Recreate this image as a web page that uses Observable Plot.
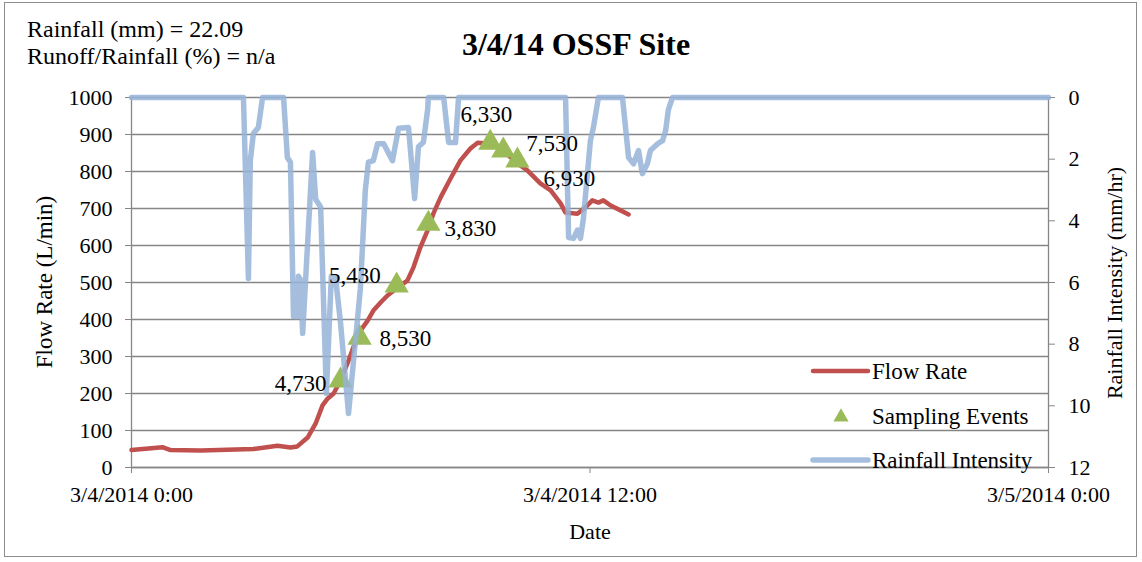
<!DOCTYPE html>
<html>
<head>
<meta charset="utf-8">
<script src="https://cdn.jsdelivr.net/npm/d3@7"></script>
<script src="https://cdn.jsdelivr.net/npm/@observablehq/plot@0.6"></script>
<style>
  html, body { margin: 0; padding: 0; background: #fff; }
  #wrap { position: relative; width: 1142px; height: 562px; overflow: hidden; }
  #wrap svg { position: absolute; left: 0; top: 0; }
  #wrap svg, #wrap svg text { font-family: 'Liberation Serif', 'Times New Roman', serif !important; }
  #border { position: absolute; left: 4px; top: 2px; width: 1133px; height: 555px; border: 1px solid #8c8c8c; box-sizing: border-box; }
</style>
</head>
<body>
<div id="wrap"><div id="border"></div></div>
<script>
// ---------- data (hours after 3/4/2014 0:00) ----------
const flowHours  = [0, 0.81, 1.02, 1.81, 3.19, 3.82, 4.16, 4.34, 4.61, 4.82, 5.00, 5.13, 5.29, 5.47, 5.68, 5.94, 6.18, 6.33, 6.52, 6.70, 6.96, 7.22, 7.38, 7.56, 7.75, 7.90, 8.09, 8.35, 8.61, 8.87, 9.06, 9.32, 9.66, 10.10, 10.36, 10.70, 10.97, 11.23, 11.36, 11.67, 11.88, 12.06, 12.22, 12.35, 12.54, 12.80, 13.01];
const flowValues = [47, 55, 47, 46, 50, 59, 54, 57, 81, 119, 168, 186, 200, 235, 289, 362, 397, 424, 446, 465, 486, 505, 541, 595, 641, 686, 730, 781, 830, 862, 878, 876, 862, 822, 803, 768, 749, 714, 689, 686, 703, 722, 716, 722, 708, 695, 684];

const rainHours  = [0, 2.93, 3.06, 3.11, 3.19, 3.32, 3.43, 3.98, 4.08, 4.16, 4.24, 4.34, 4.37, 4.42, 4.48, 4.74, 4.82, 4.95, 5.10, 5.23, 5.34, 5.47, 5.68, 5.99, 6.12, 6.20, 6.33, 6.44, 6.60, 6.83, 6.99, 7.25, 7.41, 7.51, 7.64, 7.75, 7.77, 8.17, 8.30, 8.48, 8.56, 11.36, 11.44, 11.57, 11.67, 11.75, 11.83, 12.01, 12.09, 12.22, 12.85, 13.01, 13.14, 13.27, 13.37, 13.50, 13.58, 13.77, 13.90, 13.98, 14.05, 14.16, 24];
const rainValues = [0, 0, 5.87, 2.04, 1.17, 0.97, 0, 0, 1.95, 2.1, 7.1, 7.1, 5.8, 5.9, 7.65, 1.78, 3.3, 3.55, 9.6, 5.8, 5.85, 7.3, 10.25, 6.2, 3.0, 2.1, 2.05, 1.5, 1.5, 2.05, 1.0, 0.97, 3.28, 1.6, 1.45, 0.4, 0, 0, 1.46, 1.46, 0, 0, 4.54, 4.57, 4.3, 4.57, 3.9, 1.4, 0.97, 0, 0, 1.95, 2.15, 1.72, 2.47, 2.15, 1.72, 1.5, 1.4, 1.07, 0.4, 0, 0];

const sampleHours  = [5.47, 5.97, 6.94, 7.77, 9.39, 9.73, 10.10];
const sampleValues = [235, 351, 492, 659, 878, 857, 830];
const sampleLabels = ["4,730", "8,530", "5,430", "3,830", "6,330", "7,530", "6,930"];

const flowTicks = [0, 100, 200, 300, 400, 500, 600, 700, 800, 900, 1000];
const rainTicks = [0, 2, 4, 6, 8, 10, 12];
const xTickHours = [0, 12, 24];
const xTickLabels = ["3/4/2014 0:00", "3/4/2014 12:00", "3/5/2014 0:00"];

const titleText = "3/4/14 OSSF Site";
const noteLines = ["Rainfall (mm) = 22.09", "Runoff/Rainfall (%) = n/a"];
const axisTitles = {x: "Date", y: "Flow Rate (L/min)", y2: "Rainfall Intensity (mm/hr)"};
const seriesNames = ["Flow Rate", "Sampling Events", "Rainfall Intensity"];

// ---------- build ----------
const base = Date.UTC(2014, 2, 4);
const toDate = h => new Date(base + h * 3600e3);
const FLOW_MAX = 1000, RAIN_MAX = 12;
const rainToY = r => FLOW_MAX - r * FLOW_MAX / RAIN_MAX;

const flow = flowHours.map((h, i) => ({t: toDate(h), v: flowValues[i]}));
const rain = rainHours.map((h, i) => ({t: toDate(h), v: rainToY(rainValues[i])}));
const samples = sampleHours.map((h, i) => ({t: toDate(h), v: sampleValues[i], label: sampleLabels[i]}));

const RED = "#C0504D", BLUE = "#95B3D7", GREEN = "#9BBB59", GRID = "#868686";
const FONT = "'Liberation Serif', 'Times New Roman', serif";

// label placement (layout only)
const labelLayout = {
  "4,730": {anchor: "end", dx: -14, dy: 3},
  "8,530": {anchor: "start", dx: 20, dy: 1},
  "5,430": {anchor: "end", dx: -16, dy: -10},
  "3,830": {anchor: "start", dx: 16, dy: 5},
  "6,330": {anchor: "middle", dx: -4, dy: -28},
  "7,530": {anchor: "start", dx: 23, dy: -7},
  "6,930": {anchor: "start", dx: 26, dy: 18}
};

const labelMarks = samples.map(s => {
  const L = labelLayout[s.label];
  return Plot.text([s], {x: "t", y: "v", text: "label", textAnchor: L.anchor, dx: L.dx, dy: L.dy, fontSize: 23, fill: "black"});
});

const xTickMap = new Map(xTickHours.map((h, i) => [+toDate(h), xTickLabels[i]]));

const chart = Plot.plot({
  width: 1142,
  height: 562,
  marginLeft: 131,
  marginRight: 94,
  marginTop: 97,
  marginBottom: 95,
  style: {fontFamily: FONT, fontSize: "22px", color: "black", background: "transparent", overflow: "visible"},
  x: {type: "utc", domain: [toDate(0), toDate(24)]},
  y: {domain: [0, FLOW_MAX]},
  marks: [
    Plot.gridY(flowTicks, {stroke: GRID, strokeOpacity: 1, strokeWidth: 1.3}),
    Plot.ruleX([toDate(0), toDate(24)], {stroke: GRID, strokeWidth: 1.3}),
    Plot.ruleY([0], {stroke: GRID, strokeWidth: 1.3}),
    Plot.axisY(flowTicks, {anchor: "left", tickSize: 6, tickPadding: 13, stroke: GRID, fill: "black", fontSize: 22,
      tickFormat: d => String(d), label: null}),
    Plot.axisY(rainTicks.map(rainToY), {anchor: "right", tickSize: 6, tickPadding: 14, stroke: GRID, fill: "black", fontSize: 22,
      tickFormat: y => String(Math.round((FLOW_MAX - y) * RAIN_MAX / FLOW_MAX)), label: null}),
    Plot.axisX(xTickHours.map(toDate), {anchor: "bottom", tickSize: 6, tickPadding: 13, stroke: GRID, fill: "black", fontSize: 22,
      tickFormat: d => xTickMap.get(+d), label: null}),
    Plot.line(flow, {x: "t", y: "v", stroke: RED, strokeWidth: 4.5, strokeLinejoin: "round", strokeLinecap: "round"}),
    Plot.dot(samples, {x: "t", y: "v", symbol: "triangle", r: 9, fill: GREEN, stroke: "none"}),
    Plot.line(rain, {x: "t", y: "v", stroke: BLUE, strokeOpacity: 0.85, strokeWidth: 5.5, strokeLinejoin: "round", strokeLinecap: "round"}),
    ...labelMarks
  ]
});
const wrap = document.getElementById("wrap");
wrap.appendChild(chart);

// ---------- titles, notes, legend (overlay) ----------
const ov = d3.select(wrap).append("svg")
  .attr("width", 1142).attr("height", 562)
  .style("font-family", FONT).style("pointer-events", "none");

ov.append("text").attr("x", 576).attr("y", 55).attr("text-anchor", "middle")
  .attr("font-size", 32).attr("font-weight", "bold").text(titleText);

noteLines.forEach((t, i) => {
  ov.append("text").attr("x", 27).attr("y", 37 + i * 27).attr("font-size", 24).text(t);
});

ov.append("text").attr("transform", "translate(52,282) rotate(-90)").attr("text-anchor", "middle")
  .attr("font-size", 23).text(axisTitles.y);
ov.append("text").attr("transform", "translate(1122,283) rotate(-90)").attr("text-anchor", "middle")
  .attr("font-size", 22).text(axisTitles.y2);
ov.append("text").attr("x", 590).attr("y", 539).attr("text-anchor", "middle")
  .attr("font-size", 22).text(axisTitles.x);

const lg = ov.append("g").attr("font-size", 23);
lg.append("line").attr("x1", 813).attr("x2", 868).attr("y1", 371).attr("y2", 371)
  .attr("stroke", RED).attr("stroke-width", 4.5).attr("stroke-linecap", "round");
lg.append("text").attr("x", 872).attr("y", 379).text(seriesNames[0]);
lg.append("path").attr("d", d3.symbol(d3.symbolTriangle, 100)()).attr("transform", "translate(841,417)").attr("fill", GREEN);
lg.append("text").attr("x", 872).attr("y", 424).text(seriesNames[1]);
lg.append("line").attr("x1", 813).attr("x2", 868).attr("y1", 460).attr("y2", 460)
  .attr("stroke", BLUE).attr("stroke-opacity", 0.85).attr("stroke-width", 5.5).attr("stroke-linecap", "round");
lg.append("text").attr("x", 872).attr("y", 468).text(seriesNames[2]);
</script>
</body>
</html>
